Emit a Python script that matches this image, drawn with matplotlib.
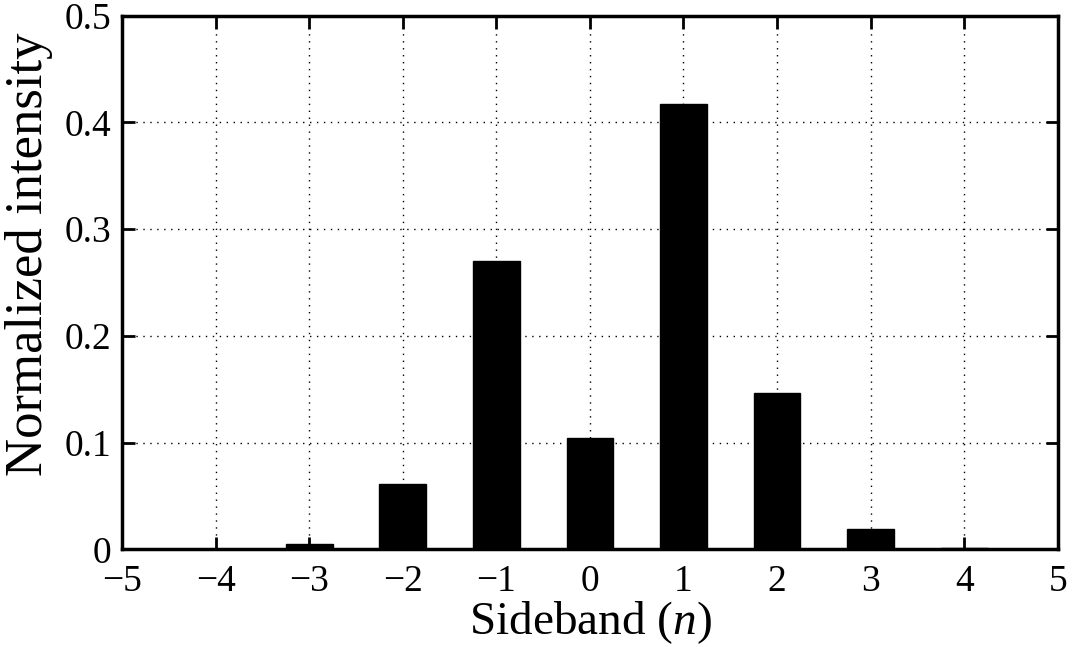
import numpy as np
import matplotlib.pyplot as plt

# dados
sideband = [-4, -3, -2, -1, 0, 1, 2, 3, 4]
intensity = [0.0003, 0.005, 0.061, 0.270, 0.104, 0.417, 0.147, 0.0195, 0.0012]
xticks = [-5, -4, -3, -2, -1, 0, 1, 2, 3, 4, 5]
yticks = [0, 0.1, 0.2, 0.3, 0.4, 0.5]
ytick_labels = ['0', '0.1', '0.2', '0.3', '0.4', '0.5']

plt.rcParams['font.family'] = ['Liberation Serif', 'DejaVu Serif']
plt.rcParams['mathtext.fontset'] = 'custom'
plt.rcParams['mathtext.it'] = 'Liberation Serif:italic'
plt.rcParams['mathtext.rm'] = 'Liberation Serif'

fig = plt.figure(figsize=(10.75, 6.47), dpi=100)
ax = fig.add_axes([0.1135, 0.1507, 0.8705, 0.8253])

ax.bar(sideband, intensity, width=0.5, color='black', edgecolor='black', zorder=3)

ax.set_xlim(-5, 5)
ax.set_ylim(0, 0.5)
ax.set_xticks(xticks)
ax.set_xticklabels([str(v).replace('-', '\u2212') for v in xticks])
ax.set_yticks(yticks)
ax.set_yticklabels(ytick_labels)

ax.grid(True, linestyle=(0, (1, 4)), color='black', linewidth=1.0, zorder=0)
ax.set_axisbelow(True)

ax.tick_params(direction='in', length=9, width=2, labelsize=27,
               top=True, right=True)
ax.tick_params(axis='x', pad=11)
ax.tick_params(axis='y', pad=8)
for s in ax.spines.values():
    s.set_linewidth(2.5)

ax.set_xlabel('Sideband ($n$)', fontsize=34, labelpad=0)
ax.set_ylabel('Normalized intensity', fontsize=38)
ax.yaxis.set_label_coords(-0.074, 0.553)

plt.savefig('out.png', dpi=100)
